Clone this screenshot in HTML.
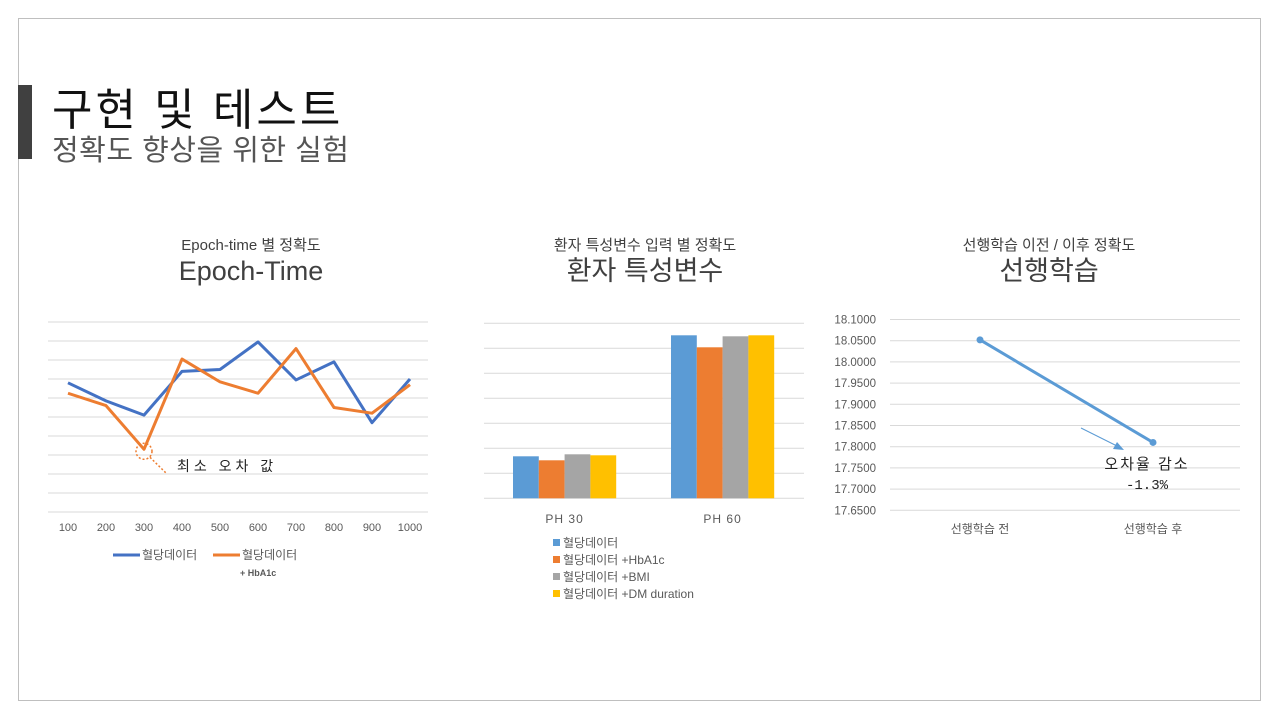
<!DOCTYPE html>
<html><head><meta charset="utf-8">
<style>
html,body{margin:0;padding:0;background:#fff;}
body{width:1280px;height:720px;position:relative;overflow:hidden;font-family:"Liberation Sans","Noto Sans CJK KR",sans-serif;}
#frame{position:absolute;left:18px;top:18px;width:1243px;height:683px;border:1px solid #bfbfbf;box-sizing:border-box;}
#bar{position:absolute;left:18px;top:85px;width:14px;height:74px;background:#404040;}
#title{position:absolute;left:52px;top:74px;font-size:44px;color:#111;letter-spacing:3px;}
#subtitle{position:absolute;left:52px;top:127px;font-size:29px;color:#555;letter-spacing:0.5px;}
svg{position:absolute;left:0;top:0;}
text{font-family:"Liberation Sans","Noto Sans CJK KR",sans-serif;}
text.mono{font-family:"Liberation Mono",monospace;}
</style></head><body>
<div id="frame"></div>
<div id="bar"></div>
<div id="title">구현 및 테스트</div>
<div id="subtitle">정확도 향상을 위한 실험</div>
<svg id="svg" width="1280" height="720"></svg>
<script>
// Chart 1: Epoch-time
const epochCats = ["100","200","300","400","500","600","700","800","900","1000"];
const epochBlue = [6.8,5.85,5.1,7.4,7.5,8.95,6.95,7.9,4.7,7.0];
const epochOrange = [6.25,5.6,3.3,8.05,6.85,6.25,8.6,5.5,5.2,6.7];
// Chart 2: patient features
const phCats = ["PH 30","PH 60"];
const phSeriesNames = ["혈당데이터","혈당데이터 +HbA1c","혈당데이터 +BMI","혈당데이터 +DM duration"];
const phBase = [1.68,6.52];
const phHbA1c = [1.52,6.04];
const phBMI = [1.76,6.48];
const phDM = [1.72,6.52];
// Chart 3: pretraining
const preCats = ["선행학습 전","선행학습 후"];
const preValues = [18.052,17.81];
const preTicks = ["18.1000","18.0500","18.0000","17.9500","17.9000","17.8500","17.8000","17.7500","17.7000","17.6500"];

const svg = document.getElementById('svg');
const NS = 'http://www.w3.org/2000/svg';
function mk(tag, attrs, txt){const e=document.createElementNS(NS,tag);for(const k in attrs)e.setAttribute(k,attrs[k]);if(txt!==undefined)e.textContent=txt;svg.appendChild(e);return e;}

[[251,'Epoch-time 별 정확도','Epoch-Time'],[645,'환자 특성변수 입력 별 정확도','환자 특성변수'],[1049,'선행학습 이전 / 이후 정확도','선행학습']].forEach((t,i)=>{
  let a=mk('text',{x:t[0],y:250,'text-anchor':'middle','font-size':15,fill:'#404040'},t[1]);
  
  
  let b=mk('text',{x:t[0],y:280,'text-anchor':'middle','font-size':27,fill:'#404040'},t[2]);
  
  
});

// ---- Chart 1 ----
const c1x = i => 68 + i*38;
const c1y = v => 512 - v*19;
for(let g=0; g<=10; g++){
  let l=mk('line',{x1:48,x2:428,y1:c1y(g),y2:c1y(g),stroke:'#d9d9d9','stroke-width':1});
  
  
}
epochCats.forEach((c,i)=>{
  let t=mk('text',{x:c1x(i),y:531,'text-anchor':'middle','font-size':11,fill:'#595959'},c);
  
  
});
function poly(arr, xf, yf, color, w, name){
  const p=mk('polyline',{points:arr.map((v,i)=>xf(i)+','+yf(v)).join(' '),fill:'none',stroke:color,'stroke-width':w,'stroke-linejoin':'round'});
  
  
}
poly(epochBlue,c1x,c1y,'#4472c4',3,'epoch-line-blood-glucose');
poly(epochOrange,c1x,c1y,'#ed7d31',3,'epoch-line-hba1c');
let mn=2;
let circ=mk('circle',{cx:c1x(mn),cy:c1y(epochOrange[mn])+2,r:8,fill:'none',stroke:'#ed7d31','stroke-width':1.5,'stroke-dasharray':'2,2'});


let dl=mk('line',{x1:c1x(mn)+6,y1:c1y(epochOrange[mn])+8,x2:167,y2:474,stroke:'#ed7d31','stroke-width':1.5,'stroke-dasharray':'2,2'});


let at=mk('text',{x:177,y:471,'font-size':14,fill:'#222','letter-spacing':4},'최소 오차 값');


[[113,'#4472c4','혈당데이터'],[213,'#ed7d31','혈당데이터']].forEach((L,i)=>{
  let l=mk('line',{x1:L[0],x2:L[0]+27,y1:555,y2:555,stroke:L[1],'stroke-width':3});
  
  
  let t=mk('text',{x:L[0]+29,y:559,'font-size':12,fill:'#595959'},L[2]);
  
  
});
let hb=mk('text',{x:240,y:576,'font-size':9,'font-weight':'bold',fill:'#595959'},'+ HbA1c');



// ---- Chart 2 ----
const c2y = v => 498.3 - v*25;
for(let g=0; g<=7; g++){
  let l=mk('line',{x1:484,x2:804,y1:c2y(g),y2:c2y(g),stroke:'#d9d9d9','stroke-width':1});
  
  
}
const phSeries=[phBase,phHbA1c,phBMI,phDM];
const phColors=['#5b9bd5','#ed7d31','#a5a5a5','#ffc000'];
const groupX = i => 513 + i*158;
const bw = 25.8;
phSeries.forEach((s,si)=>{
  s.forEach((v,ci)=>{
    let r=mk('rect',{x:groupX(ci)+si*bw,y:c2y(v),width:bw,height:c2y(0)-c2y(v),fill:phColors[si]});
    
    
  });
});
phCats.forEach((c,i)=>{
  let t=mk('text',{x:groupX(i)+2*bw,y:523,'text-anchor':'middle','font-size':12,fill:'#595959','letter-spacing':1},c);
  
  
});
phSeriesNames.forEach((n,i)=>{
  let r=mk('rect',{x:553,y:539+i*17,width:7,height:7,fill:phColors[i]});
  
  
  let t=mk('text',{x:563,y:547+i*17,'font-size':12,fill:'#595959'},n);
  
  
});

// ---- Chart 3 ----
const c3y = v => 319.5 + (18.1 - v)/0.05*21.2;
const c3x = i => 980 + i*173;
preTicks.forEach(t=>{
  const v=parseFloat(t);
  let l=mk('line',{x1:890,x2:1240,y1:c3y(v),y2:c3y(v),stroke:'#d9d9d9','stroke-width':1});
  
  
  let tx=mk('text',{x:876,y:c3y(v)+4,'text-anchor':'end','font-size':11.5,fill:'#595959'},t);
  
  
});
preCats.forEach((c,i)=>{
  let t=mk('text',{x:c3x(i),y:533,'text-anchor':'middle','font-size':12,fill:'#595959'},c);
  
  
});
poly(preValues,c3x,c3y,'#5b9bd5',3,'pre-line');
preValues.forEach((v,i)=>{
  let c=mk('circle',{cx:c3x(i),cy:c3y(v),r:3.5,fill:'#5b9bd5'});
  
  
});
let ar=mk('line',{x1:1081,y1:428,x2:1117,y2:446,stroke:'#5b9bd5','stroke-width':1});


let ah=mk('polygon',{points:'1124,450 1113,449 1117,442',fill:'#5b9bd5'});


let a1=mk('text',{x:1147,y:469,'text-anchor':'middle','font-size':15,fill:'#222','letter-spacing':2},'오차율 감소');


let a2=mk('text',{x:1147,y:489,'text-anchor':'middle','font-size':14,fill:'#222','class':'mono'},'-1.3%');


</script>
</body></html>
